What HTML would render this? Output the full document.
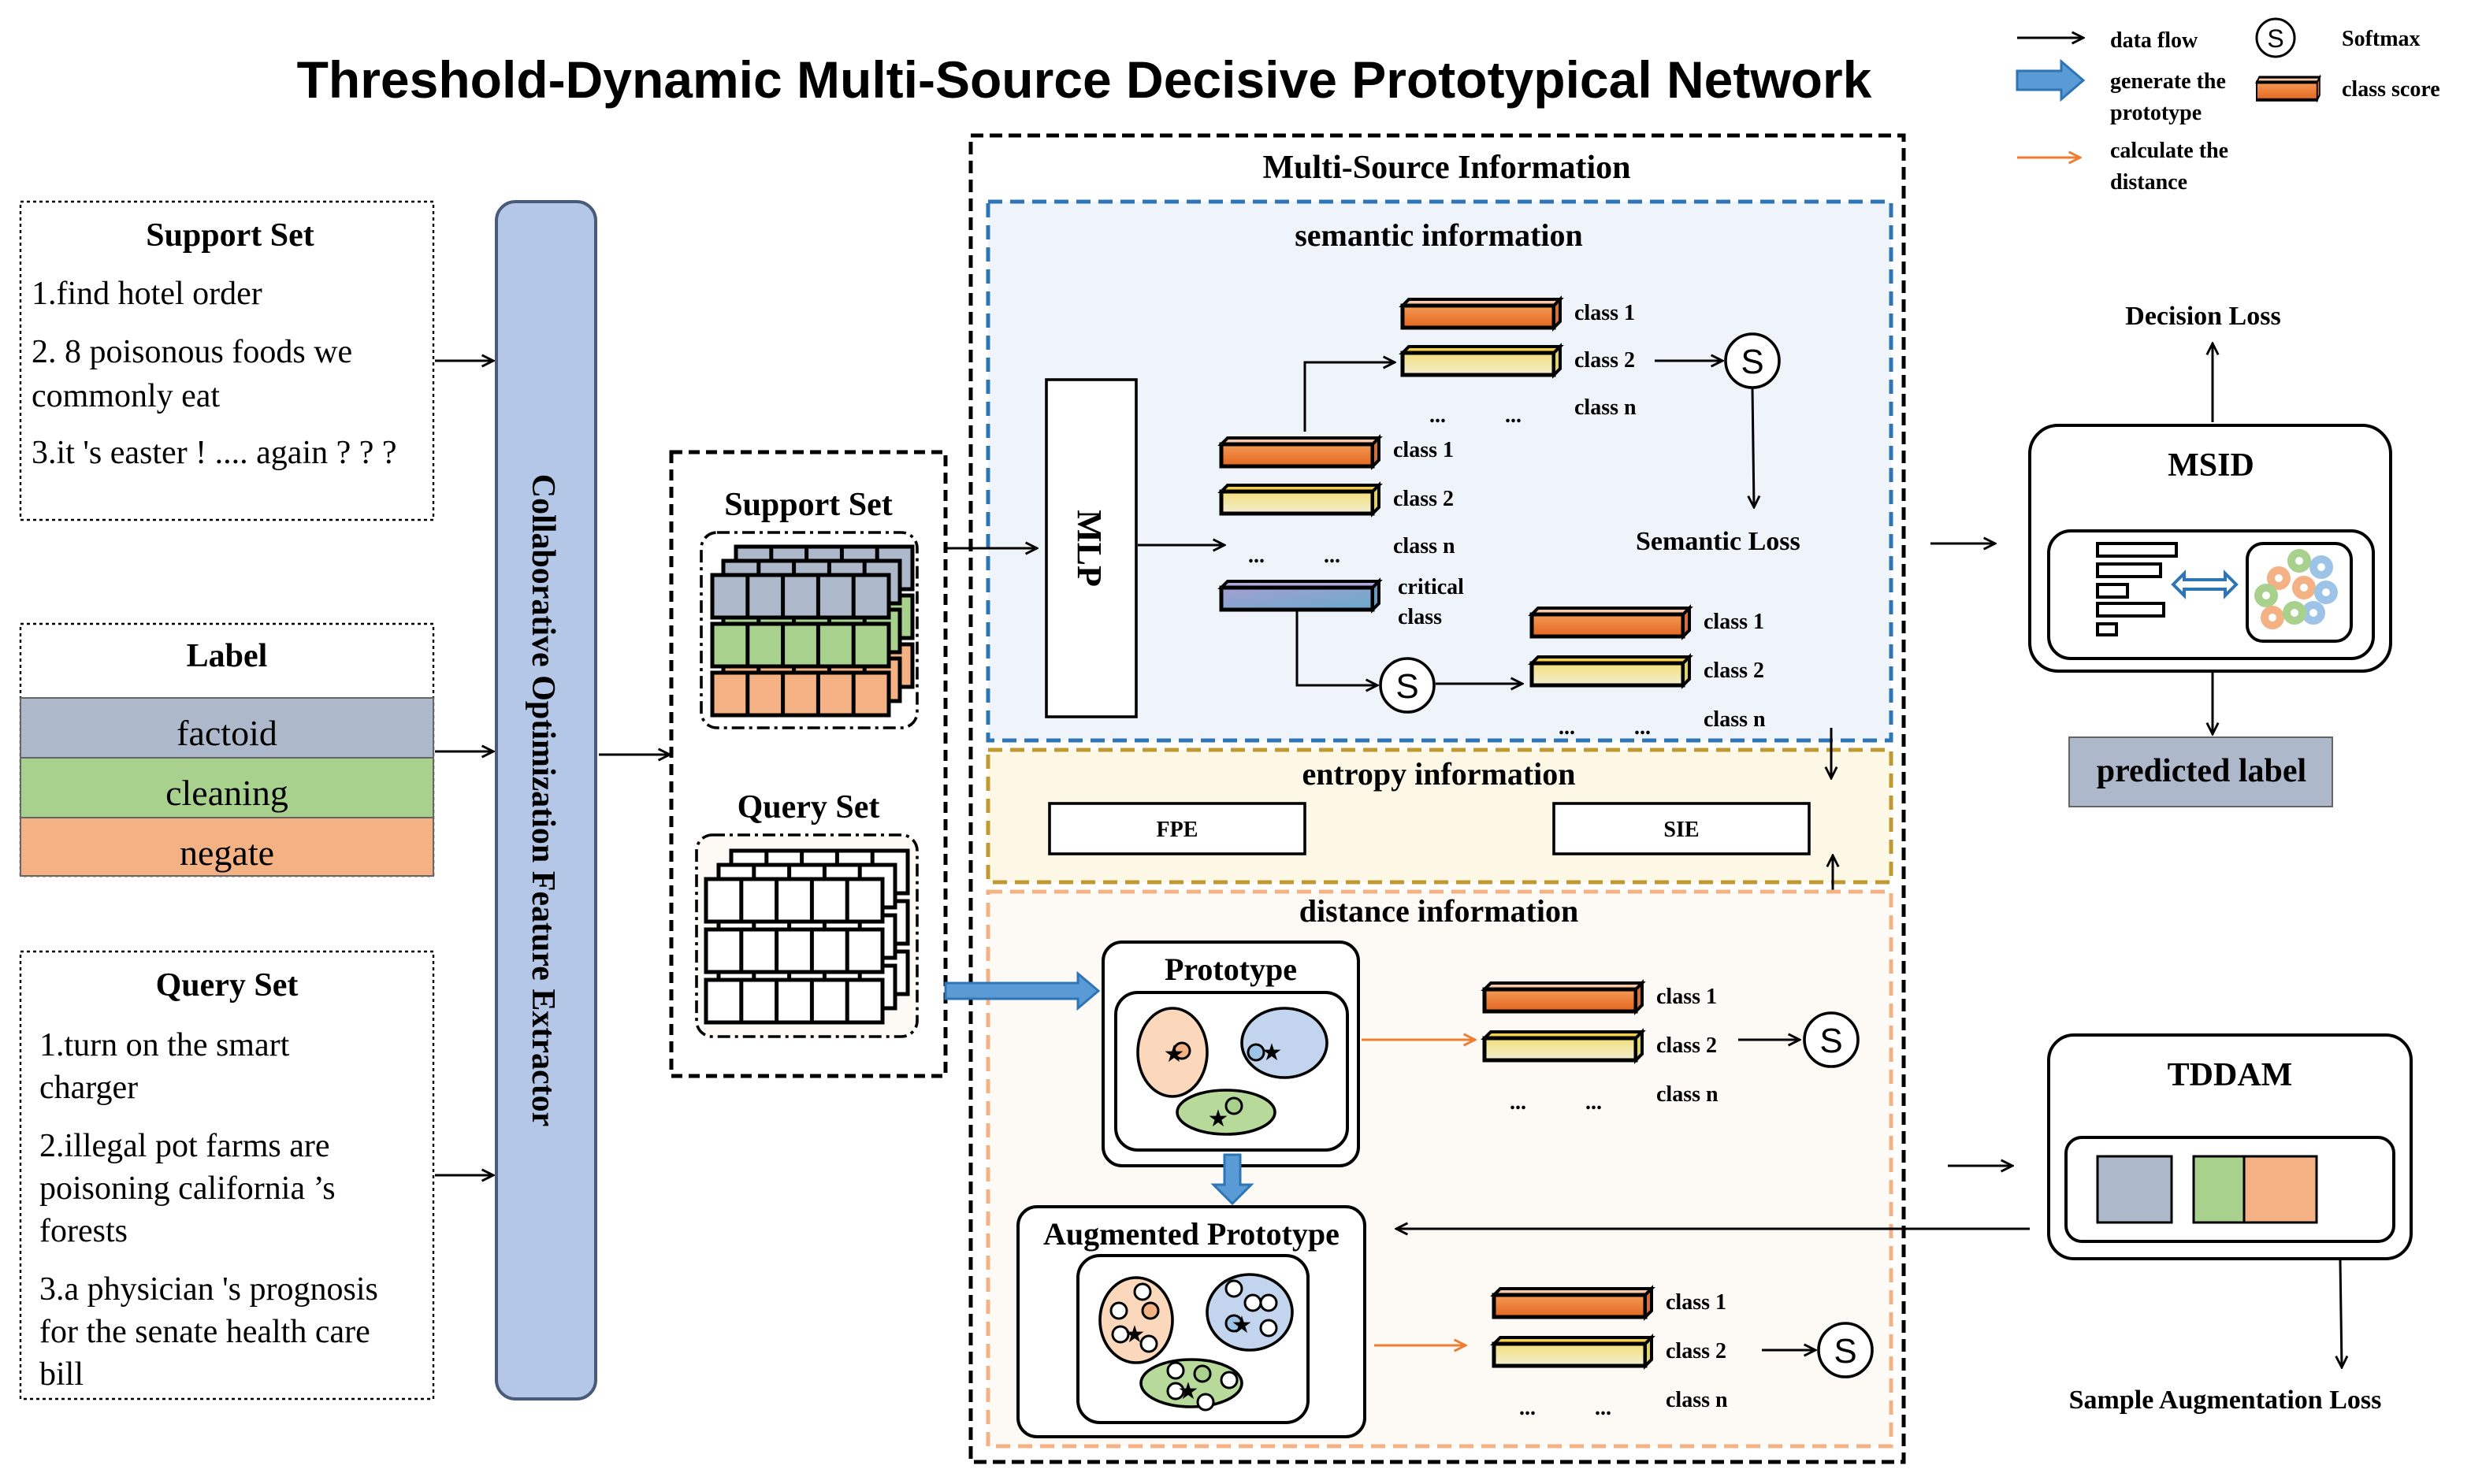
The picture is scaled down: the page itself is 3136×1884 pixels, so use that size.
<!DOCTYPE html>
<html><head><meta charset="utf-8"><style>
html,body{margin:0;padding:0;background:#fff}
svg{display:block}
text{font-family:"Liberation Serif",serif;fill:#000}
.b{font-weight:bold}
.s{font-family:"Liberation Sans",sans-serif}
</style></head><body>
<svg width="3136" height="1884" viewBox="0 0 1568 942" xmlns="http://www.w3.org/2000/svg">
<defs>
<linearGradient id="gO" x1="0" y1="0" x2="0" y2="1"><stop offset="0" stop-color="#f59a55"/><stop offset="1" stop-color="#e2661f"/></linearGradient>
<linearGradient id="gY" x1="0" y1="0" x2="0" y2="1"><stop offset="0" stop-color="#f3df7a"/><stop offset="1" stop-color="#f2eed2"/></linearGradient>
<linearGradient id="gC" x1="0" y1="0" x2="1" y2="1"><stop offset="0" stop-color="#a49fd2"/><stop offset="1" stop-color="#6aaacb"/></linearGradient>
<marker id="ar" viewBox="0 0 10 10" refX="9" refY="5" markerWidth="9" markerHeight="9" orient="auto" markerUnits="userSpaceOnUse"><path d="M1,1 L9,5 L1,9" fill="none" stroke="#000" stroke-width="1.6"/></marker>
<marker id="ao" viewBox="0 0 10 10" refX="9" refY="5" markerWidth="9" markerHeight="9" orient="auto" markerUnits="userSpaceOnUse"><path d="M1,1 L9,5 L1,9" fill="none" stroke="#ed7d31" stroke-width="1.6"/></marker>
<g id="barO"><polygon points="0,4 4,0 100,0 96,4" fill="#f8c8a8" stroke="#000" stroke-width="2"/><rect x="0" y="4" width="96" height="14" fill="url(#gO)" stroke="#000" stroke-width="2.5"/><polygon points="96,4 100,0 100,14 96,18" fill="#d0703a" stroke="#000" stroke-width="2"/></g>
<g id="barY"><polygon points="0,4 4,0 100,0 96,4" fill="#f2d04a" stroke="#000" stroke-width="2"/><rect x="0" y="4" width="96" height="14" fill="url(#gY)" stroke="#000" stroke-width="2.5"/><polygon points="96,4 100,0 100,14 96,18" fill="#e0d070" stroke="#000" stroke-width="2"/></g>
<g id="barC"><polygon points="0,4 4,0 100,0 96,4" fill="#b0a8d8" stroke="#000" stroke-width="2"/><rect x="0" y="4" width="96" height="14" fill="url(#gC)" stroke="#000" stroke-width="2.5"/><polygon points="96,4 100,0 100,14 96,18" fill="#6a9cc0" stroke="#000" stroke-width="2"/></g>
<g id="rw"><rect width="112" height="27" stroke="#000" stroke-width="2.5"/><path d="M22.4,0v27M44.8,0v27M67.2,0v27M89.6,0v27" stroke="#000" stroke-width="2.5"/></g>
<g id="S"><circle r="17" fill="#fff" stroke="#000" stroke-width="1.8"/><text x="0" y="8" text-anchor="middle" font-size="22" class="s">S</text></g>
</defs>

<!-- Title -->
<text x="688" y="62" text-anchor="middle" class="s b" font-size="33">Threshold-Dynamic Multi-Source Decisive Prototypical Network</text>

<!-- Legend -->
<line x1="1280" y1="24" x2="1322" y2="24" stroke="#000" stroke-width="1.5" marker-end="url(#ar)"/>
<text x="1339" y="30" class="b" font-size="14">data flow</text>
<circle cx="1444" cy="24" r="12" fill="#fff" stroke="#000" stroke-width="1.5"/><text x="1444" y="30" text-anchor="middle" class="s" font-size="16">S</text>
<text x="1486" y="29" class="b" font-size="14">Softmax</text>
<polygon points="1280,45 1308,45 1308,39 1322,51 1308,63 1308,57 1280,57" fill="#5b9bd5" stroke="#2e75b6" stroke-width="1.5"/>
<text x="1339" y="56" class="b" font-size="14">generate the</text>
<text x="1339" y="76" class="b" font-size="14">prototype</text>
<g transform="translate(1432,49) scale(0.4,0.8)"><use href="#barO"/></g>
<text x="1486" y="61" class="b" font-size="14">class score</text>
<line x1="1280" y1="100" x2="1320" y2="100" stroke="#ed7d31" stroke-width="1.5" marker-end="url(#ao)"/>
<text x="1339" y="100" class="b" font-size="14">calculate the</text>
<text x="1339" y="120" class="b" font-size="14">distance</text>

<!-- Left inputs -->
<rect x="13" y="128" width="262" height="202" fill="#fff" stroke="#000" stroke-width="1.2" stroke-dasharray="2,2"/>
<text x="146" y="156" text-anchor="middle" class="b" font-size="21">Support Set</text>
<text x="20" y="193" font-size="21">1.find hotel order</text>
<text x="20" y="230" font-size="21">2. 8 poisonous foods we</text>
<text x="20" y="258" font-size="21">commonly eat</text>
<text x="20" y="294" font-size="21">3.it 's easter ! .... again ? ? ?</text>

<rect x="13" y="396" width="262" height="160" fill="#fff" stroke="#000" stroke-width="1.2" stroke-dasharray="2,2"/>
<text x="144" y="423" text-anchor="middle" class="b" font-size="21">Label</text>
<rect x="13" y="443" width="262" height="38" fill="#adb9ca" stroke="#666" stroke-width="1"/>
<rect x="13" y="481" width="262" height="38" fill="#a9d18e" stroke="#666" stroke-width="1"/>
<rect x="13" y="519" width="262" height="37" fill="#f4b183" stroke="#666" stroke-width="1"/>
<text x="144" y="473" text-anchor="middle" font-size="23">factoid</text>
<text x="144" y="511" text-anchor="middle" font-size="23">cleaning</text>
<text x="144" y="549" text-anchor="middle" font-size="23">negate</text>

<rect x="13" y="604" width="262" height="284" fill="#fff" stroke="#000" stroke-width="1.2" stroke-dasharray="2,2"/>
<text x="144" y="632" text-anchor="middle" class="b" font-size="21">Query Set</text>
<text x="25" y="670" font-size="21">1.turn on the smart</text>
<text x="25" y="697" font-size="21">charger</text>
<text x="25" y="734" font-size="21">2.illegal pot farms are</text>
<text x="25" y="761" font-size="21">poisoning california ’s</text>
<text x="25" y="788" font-size="21">forests</text>
<text x="25" y="825" font-size="21">3.a physician 's prognosis</text>
<text x="25" y="852" font-size="21">for the senate health care</text>
<text x="25" y="879" font-size="21">bill</text>

<line x1="276" y1="229" x2="313" y2="229" stroke="#000" stroke-width="1.5" marker-end="url(#ar)"/>
<line x1="276" y1="477" x2="313" y2="477" stroke="#000" stroke-width="1.5" marker-end="url(#ar)"/>
<line x1="276" y1="746" x2="313" y2="746" stroke="#000" stroke-width="1.5" marker-end="url(#ar)"/>

<rect x="315" y="128" width="63" height="760" rx="12" fill="#b4c7e7" stroke="#4a5a7a" stroke-width="2"/>
<text transform="translate(338,508) rotate(90)" text-anchor="middle" class="b" font-size="21">Collaborative Optimization Feature Extractor</text>
<line x1="380" y1="479" x2="425" y2="479" stroke="#000" stroke-width="1.5" marker-end="url(#ar)"/>

<!-- Middle sets -->
<rect x="426" y="287" width="174" height="396" fill="#fff" stroke="#000" stroke-width="2.5" stroke-dasharray="7,4"/>
<text x="513" y="327" text-anchor="middle" class="b" font-size="21">Support Set</text>
<rect x="445" y="338" width="137" height="124" rx="10" fill="#fff" stroke="#000" stroke-width="1.8" stroke-dasharray="8,3,2,3"/>
<use href="#rw" x="467" y="347" fill="#adb9ca"/><use href="#rw" x="467" y="378" fill="#a9d18e"/><use href="#rw" x="467" y="409" fill="#f4b183"/>
<use href="#rw" x="459" y="356" fill="#adb9ca"/><use href="#rw" x="459" y="387" fill="#a9d18e"/><use href="#rw" x="459" y="418" fill="#f4b183"/>
<use href="#rw" x="452" y="365" fill="#adb9ca"/><use href="#rw" x="452" y="396" fill="#a9d18e"/><use href="#rw" x="452" y="427" fill="#f4b183"/>

<text x="513" y="519" text-anchor="middle" class="b" font-size="21">Query Set</text>
<rect x="442" y="530" width="140" height="128" rx="10" fill="#fdf9f5" stroke="#000" stroke-width="1.8" stroke-dasharray="8,3,2,3"/>
<use href="#rw" x="464" y="540" fill="#fff"/><use href="#rw" x="464" y="572" fill="#fff"/><use href="#rw" x="464" y="604" fill="#fff"/>
<use href="#rw" x="456" y="549" fill="#fff"/><use href="#rw" x="456" y="581" fill="#fff"/><use href="#rw" x="456" y="613" fill="#fff"/>
<use href="#rw" x="448" y="558" fill="#fff"/><use href="#rw" x="448" y="590" fill="#fff"/><use href="#rw" x="448" y="622" fill="#fff"/>

<!-- Multi-source box -->
<rect x="616" y="86" width="592" height="842" fill="#fff" stroke="#000" stroke-width="2.5" stroke-dasharray="8,4"/>
<text x="918" y="113" text-anchor="middle" class="b" font-size="21">Multi-Source Information</text>

<rect x="627" y="128" width="573" height="342" fill="#eef4fa" stroke="#2e75b6" stroke-width="2.5" stroke-dasharray="9,5"/>
<text x="913" y="156" text-anchor="middle" class="b" font-size="20">semantic information</text>
<rect x="664" y="241" width="57" height="214" fill="#fff" stroke="#000" stroke-width="1.8"/>
<text transform="translate(684,348) rotate(90)" text-anchor="middle" class="b" font-size="22">MLP</text>
<line x1="722" y1="346" x2="777" y2="346" stroke="#000" stroke-width="1.5" marker-end="url(#ar)"/>

<use href="#barO" x="890" y="190"/><use href="#barY" x="890" y="220"/>
<text x="999" y="203" class="b" font-size="14">class 1</text>
<text x="999" y="233" class="b" font-size="14">class 2</text>
<text x="999" y="263" class="b" font-size="14">class n</text>
<text x="907" y="268" class="b" font-size="14">...</text><text x="955" y="268" class="b" font-size="14">...</text>
<polyline points="828,274 828,230 885,230" fill="none" stroke="#000" stroke-width="1.5" marker-end="url(#ar)"/>
<line x1="1050" y1="229" x2="1093" y2="229" stroke="#000" stroke-width="1.5" marker-end="url(#ar)"/>
<use href="#S" x="1112" y="229"/>
<line x1="1112" y1="246" x2="1113" y2="322" stroke="#000" stroke-width="1.5" marker-end="url(#ar)"/>
<text x="1038" y="349" class="b" font-size="17">Semantic Loss</text>

<use href="#barO" x="775" y="278"/><use href="#barY" x="775" y="308"/>
<text x="884" y="290" class="b" font-size="14">class 1</text>
<text x="884" y="321" class="b" font-size="14">class 2</text>
<text x="884" y="351" class="b" font-size="14">class n</text>
<text x="792" y="357" class="b" font-size="14">...</text><text x="840" y="357" class="b" font-size="14">...</text>
<use href="#barC" x="775" y="369"/>
<text x="887" y="377" class="b" font-size="14">critical</text>
<text x="887" y="396" class="b" font-size="14">class</text>
<polyline points="823,388 823,435 874,435" fill="none" stroke="#000" stroke-width="1.5" marker-end="url(#ar)"/>
<use href="#S" x="893" y="435"/>
<line x1="911" y1="434" x2="966" y2="434" stroke="#000" stroke-width="1.5" marker-end="url(#ar)"/>
<use href="#barO" x="972" y="386"/><use href="#barY" x="972" y="417"/>
<text x="1081" y="399" class="b" font-size="14">class 1</text>
<text x="1081" y="430" class="b" font-size="14">class 2</text>
<text x="1081" y="461" class="b" font-size="14">class n</text>
<text x="989" y="466" class="b" font-size="14">...</text><text x="1037" y="466" class="b" font-size="14">...</text>

<rect x="627" y="476" width="573" height="84" fill="#fdf8e6" stroke="#c09a30" stroke-width="2.5" stroke-dasharray="9,5"/>
<text x="913" y="498" text-anchor="middle" class="b" font-size="20">entropy information</text>
<rect x="666" y="510" width="162" height="32" fill="#fff" stroke="#000" stroke-width="1.8"/>
<text x="747" y="531" text-anchor="middle" class="b" font-size="14">FPE</text>
<rect x="986" y="510" width="162" height="32" fill="#fff" stroke="#000" stroke-width="1.8"/>
<text x="1067" y="531" text-anchor="middle" class="b" font-size="14">SIE</text>
<line x1="1162" y1="462" x2="1162" y2="494" stroke="#000" stroke-width="1.5" marker-end="url(#ar)"/>
<line x1="1163" y1="578" x2="1163" y2="543" stroke="#000" stroke-width="1.5" marker-end="url(#ar)"/>

<rect x="627" y="566" width="573" height="352" fill="#fdf9f4" stroke="#f4b183" stroke-width="2.5" stroke-dasharray="9,5"/>
<text x="913" y="585" text-anchor="middle" class="b" font-size="20">distance information</text>

<!-- arrows entering multi-source box -->
<line x1="600" y1="348" x2="658" y2="348" stroke="#000" stroke-width="1.5" marker-end="url(#ar)"/>
<polygon points="600,624 684,624 684,618 697,629 684,640 684,634 600,634" fill="#5b9bd5" stroke="#2e75b6" stroke-width="1.5"/>

<rect x="700" y="598" width="162" height="142" rx="12" fill="#fff" stroke="#000" stroke-width="2"/>
<text x="781" y="622" text-anchor="middle" class="b" font-size="20">Prototype</text>
<rect x="708" y="630" width="147" height="100" rx="14" fill="#fff" stroke="#000" stroke-width="2"/>
<ellipse cx="744" cy="668" rx="22" ry="28" fill="#fbd8bc" stroke="#000" stroke-width="1.8"/>
<ellipse cx="815" cy="662" rx="27" ry="22" fill="#c3d5ee" stroke="#000" stroke-width="1.8"/>
<ellipse cx="778" cy="706" rx="31" ry="14" fill="#b7d99a" stroke="#000" stroke-width="1.8"/>
<circle cx="750" cy="667" r="5" fill="#f4b183" stroke="#000" stroke-width="1.5"/>
<circle cx="797" cy="668" r="5" fill="#9dc3e6" stroke="#000" stroke-width="1.5"/>
<circle cx="783" cy="702" r="5" fill="#a9d18e" stroke="#000" stroke-width="1.5"/>
<text x="745" y="674" text-anchor="middle" font-size="15">★</text>
<text x="807" y="673" text-anchor="middle" font-size="15">★</text>
<text x="773" y="715" text-anchor="middle" font-size="15">★</text>

<polygon points="777,733 787,733 787,752 794,752 782,764 770,752 777,752" fill="#5b9bd5" stroke="#2e75b6" stroke-width="1.5"/>

<rect x="646" y="766" width="220" height="146" rx="12" fill="#fff" stroke="#000" stroke-width="2"/>
<text x="756" y="790" text-anchor="middle" class="b" font-size="20">Augmented Prototype</text>
<rect x="684" y="797" width="146" height="106" rx="14" fill="#fff" stroke="#000" stroke-width="2"/>
<ellipse cx="721" cy="838" rx="23" ry="27" fill="#fbd8bc" stroke="#000" stroke-width="1.8"/>
<ellipse cx="793" cy="833" rx="27" ry="24" fill="#c3d5ee" stroke="#000" stroke-width="1.8"/>
<ellipse cx="756" cy="878" rx="32" ry="15" fill="#b7d99a" stroke="#000" stroke-width="1.8"/>
<g fill="#fff" stroke="#000" stroke-width="1.5">
<circle cx="725" cy="820" r="5"/><circle cx="710" cy="832" r="5"/><circle cx="730" cy="832" r="5" fill="#f4b183"/><circle cx="711" cy="847" r="5"/><circle cx="729" cy="853" r="5"/>
<circle cx="783" cy="818" r="5"/><circle cx="795" cy="827" r="5"/><circle cx="805" cy="827" r="5"/><circle cx="783" cy="840" r="5" fill="#9dc3e6"/><circle cx="805" cy="843" r="5"/>
<circle cx="746" cy="870" r="5"/><circle cx="763" cy="872" r="5" fill="#a9d18e"/><circle cx="780" cy="876" r="5"/><circle cx="746" cy="883" r="5"/><circle cx="765" cy="890" r="5"/>
</g>
<text x="720" y="852" text-anchor="middle" font-size="15">★</text>
<text x="788" y="846" text-anchor="middle" font-size="15">★</text>
<text x="754" y="888" text-anchor="middle" font-size="15">★</text>

<line x1="864" y1="660" x2="936" y2="660" stroke="#ed7d31" stroke-width="1.5" marker-end="url(#ao)"/>
<use href="#barO" x="942" y="624"/><use href="#barY" x="942" y="655"/>
<text x="1051" y="637" class="b" font-size="14">class 1</text>
<text x="1051" y="668" class="b" font-size="14">class 2</text>
<text x="1051" y="699" class="b" font-size="14">class n</text>
<text x="958" y="704" class="b" font-size="14">...</text><text x="1006" y="704" class="b" font-size="14">...</text>
<line x1="1103" y1="660" x2="1142" y2="660" stroke="#000" stroke-width="1.5" marker-end="url(#ar)"/>
<use href="#S" x="1162" y="660"/>

<line x1="872" y1="854" x2="930" y2="854" stroke="#ed7d31" stroke-width="1.5" marker-end="url(#ao)"/>
<use href="#barO" x="948" y="818"/><use href="#barY" x="948" y="849"/>
<text x="1057" y="831" class="b" font-size="14">class 1</text>
<text x="1057" y="862" class="b" font-size="14">class 2</text>
<text x="1057" y="893" class="b" font-size="14">class n</text>
<text x="964" y="898" class="b" font-size="14">...</text><text x="1012" y="898" class="b" font-size="14">...</text>
<line x1="1118" y1="857" x2="1152" y2="857" stroke="#000" stroke-width="1.5" marker-end="url(#ar)"/>
<use href="#S" x="1171" y="857"/>

<!-- Right side -->
<line x1="1225" y1="345" x2="1266" y2="345" stroke="#000" stroke-width="1.5" marker-end="url(#ar)"/>
<rect x="1288" y="270" width="229" height="156" rx="18" fill="#fff" stroke="#000" stroke-width="2"/>
<text x="1403" y="302" text-anchor="middle" class="b" font-size="21">MSID</text>
<rect x="1300" y="337" width="206" height="81" rx="14" fill="#fff" stroke="#000" stroke-width="2"/>
<g fill="#fff" stroke="#000" stroke-width="2">
<rect x="1331" y="345" width="50" height="8"/><rect x="1331" y="358" width="40" height="8"/><rect x="1331" y="371" width="19" height="8"/><rect x="1331" y="383" width="42" height="8"/><rect x="1331" y="396" width="12" height="7"/>
</g>
<polygon points="1379,371 1386,364 1386,368 1412,368 1412,364 1419,371 1412,378 1412,374 1386,374 1386,378" fill="#fff" stroke="#2e75b6" stroke-width="2"/>
<rect x="1426" y="345" width="66" height="62" rx="10" fill="#fff" stroke="#000" stroke-width="2"/>
<g stroke-width="5" fill="none">
<circle cx="1459" cy="356" r="5" stroke="#a9d18e"/><circle cx="1446" cy="367" r="5" stroke="#f4b183"/><circle cx="1473" cy="360" r="5" stroke="#9dc3e6"/>
<circle cx="1462" cy="373" r="5" stroke="#f4b183"/><circle cx="1438" cy="378" r="5" stroke="#a9d18e"/><circle cx="1476" cy="376" r="5" stroke="#9dc3e6"/>
<circle cx="1442" cy="392" r="5" stroke="#f4b183"/><circle cx="1468" cy="389" r="5" stroke="#9dc3e6"/><circle cx="1456" cy="389" r="5" stroke="#a9d18e"/>
</g>
<line x1="1404" y1="268" x2="1404" y2="218" stroke="#000" stroke-width="1.5" marker-end="url(#ar)"/>
<text x="1398" y="206" text-anchor="middle" class="b" font-size="17">Decision Loss</text>
<line x1="1404" y1="427" x2="1404" y2="466" stroke="#000" stroke-width="1.5" marker-end="url(#ar)"/>
<rect x="1313" y="468" width="167" height="44" fill="#adb9ca" stroke="#666" stroke-width="1"/>
<text x="1397" y="496" text-anchor="middle" class="b" font-size="21">predicted label</text>

<line x1="1236" y1="740" x2="1277" y2="740" stroke="#000" stroke-width="1.5" marker-end="url(#ar)"/>
<rect x="1300" y="657" width="230" height="142" rx="16" fill="#fff" stroke="#000" stroke-width="2"/>
<text x="1415" y="689" text-anchor="middle" class="b" font-size="21">TDDAM</text>
<rect x="1311" y="722" width="208" height="66" rx="10" fill="#fff" stroke="#000" stroke-width="2"/>
<rect x="1331" y="734" width="47" height="42" fill="#adb9ca" stroke="#000" stroke-width="1.5"/>
<rect x="1392" y="734" width="32" height="42" fill="#a9d18e" stroke="#000" stroke-width="1.5"/>
<rect x="1424" y="734" width="46" height="42" fill="#f4b183" stroke="#000" stroke-width="1.5"/>
<line x1="1288" y1="780" x2="886" y2="780" stroke="#000" stroke-width="1.5" marker-end="url(#ar)"/>
<line x1="1485" y1="800" x2="1486" y2="868" stroke="#000" stroke-width="1.5" marker-end="url(#ar)"/>
<text x="1412" y="894" text-anchor="middle" class="b" font-size="17">Sample Augmentation Loss</text>
</svg>
</body></html>
